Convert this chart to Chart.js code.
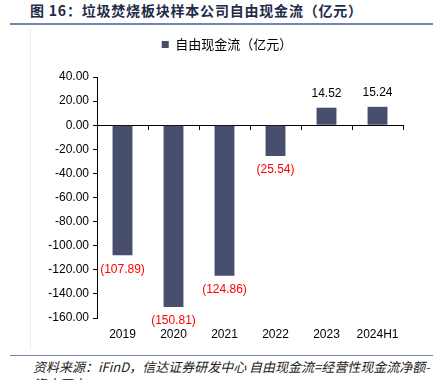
<!DOCTYPE html>
<html>
<head>
<meta charset="utf-8">
<script src="https://cdn.jsdelivr.net/npm/chart.js@4.4.1/dist/chart.umd.min.js"></script>
<style>
  html, body { margin: 0; padding: 0; background: #fff; width: 433px; height: 380px; overflow: hidden; position: relative; }
  #title { position: absolute; left: 30px; top: 0px; font: bold 14px "Noto Sans CJK SC", sans-serif; color: #1f2b4a; white-space: nowrap; letter-spacing: 0.8px; }
  #topline { position: absolute; left: 10px; right: 0; top: 23px; height: 2px; background: #7386ad; }
  #wrap { position: absolute; left: 30px; top: 28px; width: 403px; height: 322px; border-left: 1px solid #ececec; box-sizing: border-box; }
  #botline { position: absolute; left: 10px; right: 0; top: 355px; height: 1px; background: #7386ad; }
  #foot { position: absolute; left: 33px; top: 358px; width: 400px; font: italic 13px "Noto Sans CJK SC", sans-serif; color: #222; line-height: 17px; }
</style>
</head>
<body>
<div id="title">图 16：垃圾焚烧板块样本公司自由现金流（亿元）</div>
<div id="topline"></div>
<div id="wrap"><canvas id="c"></canvas></div>
<div id="botline"></div>
<div id="foot">资料来源：iFinD，信达证券研发中心 自由现金流=经营性现金流净额-资本开支</div>
<script>
const categories = ["2019", "2020", "2021", "2022", "2023", "2024H1"];
const seriesName = "自由现金流（亿元）";
const freeCashFlow = [-107.89, -150.81, -124.86, -25.54, 14.52, 15.24];
const yMin = -160, yMax = 40, yStep = 20;

const latin = '"Liberation Sans", Arial, "Noto Sans CJK SC", sans-serif';

const valueLabels = {
  id: 'valueLabels',
  afterDatasetsDraw(chart) {
    const ctx = chart.ctx;
    const meta = chart.getDatasetMeta(0);
    ctx.save();
    ctx.font = '12px ' + latin;
    ctx.textAlign = 'center';
    ctx.textBaseline = 'middle';
    meta.data.forEach((bar, i) => {
      const v = freeCashFlow[i];
      const txt = v < 0 ? '(' + Math.abs(v).toFixed(2) + ')' : v.toFixed(2);
      ctx.fillStyle = v < 0 ? '#ff0000' : '#000000';
      const y = v < 0 ? bar.y + 14 : bar.y - 14;
      ctx.fillText(txt, bar.x, y);
    });
    ctx.restore();
  }
};

const legendSpacing = {
  id: 'legendSpacing',
  beforeInit(chart) {
    const lg = chart.legend;
    if (!lg) return;
    const orig = lg.fit;
    lg.fit = function () { orig.call(this); this.height += 16; };
  }
};

new Chart(document.getElementById('c'), {
  type: 'bar',
  data: {
    labels: categories,
    datasets: [{
      label: seriesName,
      data: freeCashFlow,
      backgroundColor: '#474e6e',
      borderWidth: 0,
      categoryPercentage: 1.0,
      barPercentage: 0.39,
      xAxisID: 'x',
      yAxisID: 'y'
    }]
  },
  options: {
    responsive: true,
    maintainAspectRatio: false,
    animation: false,
    devicePixelRatio: 1,
    layout: { padding: { top: 0, right: 10, bottom: 2, left: 0 } },
    plugins: {
      legend: {
        display: true,
        position: 'top',
        labels: {
          boxWidth: 7, boxHeight: 7, padding: 10,
          color: '#000',
          font: { size: 13, family: '"Noto Sans CJK SC", sans-serif' }
        }
      },
      tooltip: { enabled: false }
    },
    scales: {
      x: {
        type: 'category',
        position: 'bottom',
        grid: { display: false, drawTicks: false, tickLength: 0 },
        border: { display: false },
        ticks: { color: '#000', padding: 9, font: { size: 12, family: latin }, maxRotation: 0 },
        afterFit(s) { s.height = 30; }
      },
      x0: {
        type: 'category',
        position: { y: 0 },
        grid: { display: true, offset: true, drawOnChartArea: false, drawTicks: true, tickLength: 4, color: '#000', lineWidth: 1 },
        border: { display: true, color: '#000', width: 1 },
        ticks: { display: false }
      },
      y: {
        position: 'left',
        min: yMin, max: yMax,
        ticks: {
          stepSize: yStep, color: '#000', padding: 4,
          font: { size: 12, family: latin },
          callback: v => v.toFixed(2)
        },
        grid: { display: true, drawOnChartArea: false, drawTicks: true, tickLength: 4, color: '#000' },
        border: { display: true, color: '#000', width: 1 },
        afterFit(s) { s.width = 66; }
      },
      yRight: {
        position: 'right',
        min: yMin, max: yMax,
        ticks: { display: false },
        grid: { display: false, drawTicks: false },
        border: { display: false },
        afterFit(s) { s.width = 20; }
      }
    }
  },
  plugins: [valueLabels, legendSpacing]
});
</script>
</body>
</html>
